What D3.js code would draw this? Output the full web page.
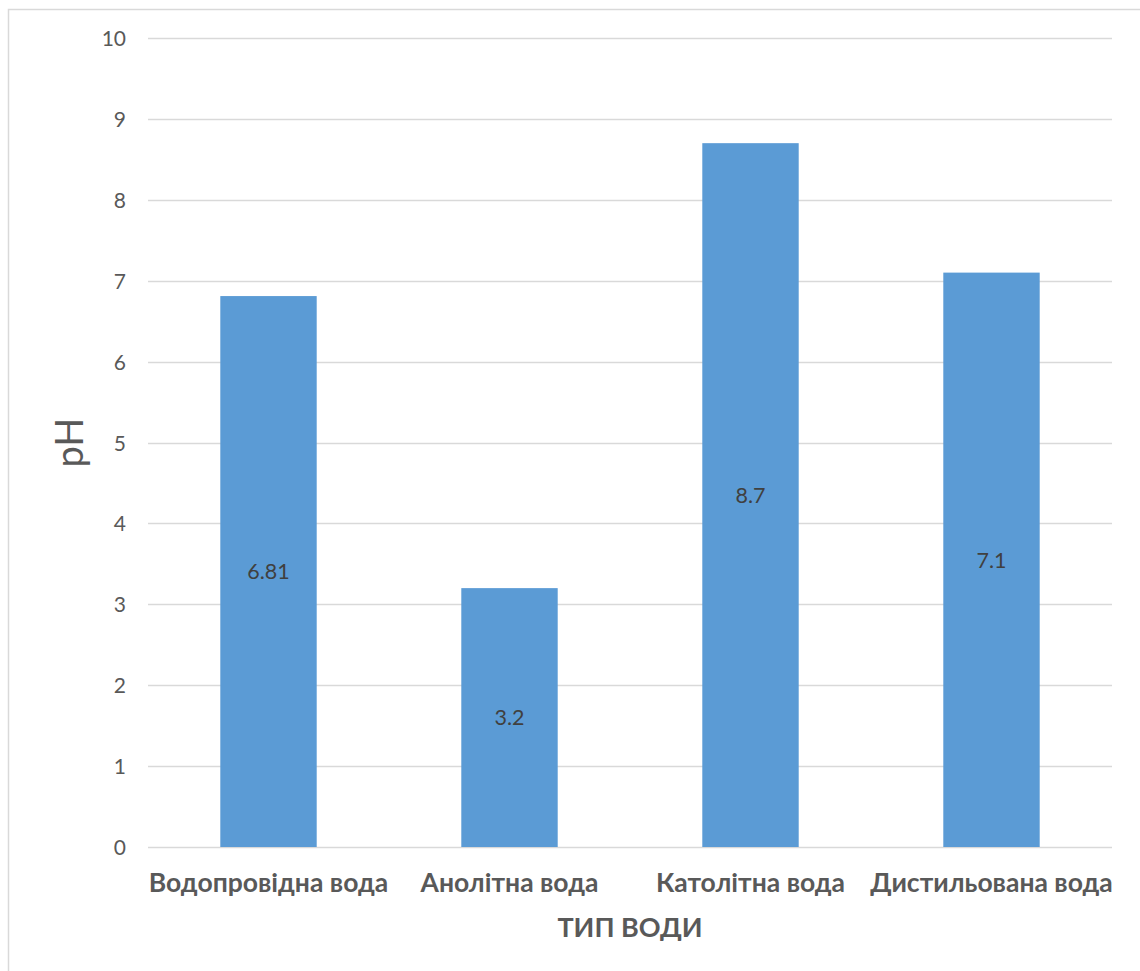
<!DOCTYPE html>
<html>
<head>
<meta charset="utf-8">
<script src="https://cdn.jsdelivr.net/npm/d3@7"></script>
<style>
  html, body { margin: 0; padding: 0; background: #ffffff; }
  svg { display: block; }
</style>
</head>
<body>
<svg id="chart" width="1140" height="971"></svg>
<script>
// pH of different water types
const categories = ["Водопровідна вода", "Анолітна вода", "Католітна вода", "Дистильована вода"];
const phValues = [6.81, 3.2, 8.7, 7.1];
const valueLabels = ["6.81", "3.2", "8.7", "7.1"];
const yTicks = [0, 1, 2, 3, 4, 5, 6, 7, 8, 9, 10];
const yTitle = "pH";
const xTitle = "ТИП ВОДИ";

const W = 1140, H = 971;
const plot = { left: 148, right: 1112, top: 38, bottom: 847 };
const fontFamily = "Lato, 'Open Sans', 'Noto Sans', sans-serif";

const svg = d3.select("#chart");

// outer chart frame (left and top edges visible)
svg.append("path")
  .attr("d", `M8.5,${H} L8.5,9.5 L${W},9.5`)
  .attr("fill", "none")
  .attr("stroke", "#d9d9d9")
  .attr("stroke-width", 1.5);

const x = d3.scaleBand()
  .domain(categories)
  .range([plot.left, plot.right])
  .paddingInner(0.6)
  .paddingOuter(0.3);

const y = d3.scaleLinear()
  .domain([0, 10])
  .range([plot.bottom, plot.top]);

// horizontal gridlines
svg.append("g")
  .selectAll("line")
  .data(yTicks)
  .join("line")
  .attr("x1", plot.left)
  .attr("x2", plot.right)
  .attr("y1", d => Math.round(y(d)) + 0.5)
  .attr("y2", d => Math.round(y(d)) + 0.5)
  .attr("stroke", "#d9d9d9")
  .attr("stroke-width", 1.5);

// y axis tick labels
const yAxis = d3.axisLeft(y).tickValues(yTicks).tickSize(0).tickPadding(0);
const gy = svg.append("g")
  .attr("transform", `translate(126,0)`)
  .call(yAxis);
gy.select(".domain").remove();
gy.selectAll("text")
  .attr("fill", "#595959")
  .attr("font-family", fontFamily)
  .attr("font-size", 21)
  .attr("dy", "0.36em");

// bars
svg.append("g")
  .selectAll("rect")
  .data(categories)
  .join("rect")
  .attr("x", d => x(d))
  .attr("width", x.bandwidth())
  .attr("y", (d, i) => y(phValues[i]))
  .attr("height", (d, i) => y(0) - y(phValues[i]))
  .attr("fill", "#5b9bd5");

// value labels centred inside bars
svg.append("g")
  .selectAll("text")
  .data(categories)
  .join("text")
  .attr("x", d => x(d) + x.bandwidth() / 2)
  .attr("y", (d, i) => y(phValues[i] / 2))
  .attr("dy", "0.36em")
  .attr("text-anchor", "middle")
  .attr("fill", "#404040")
  .attr("font-family", fontFamily)
  .attr("font-size", 21.5)
  .text((d, i) => valueLabels[i]);

// x axis category labels
const xAxis = d3.axisBottom(x).tickSize(0).tickPadding(0);
const gx = svg.append("g")
  .attr("transform", `translate(0,${plot.bottom})`)
  .call(xAxis);
gx.select(".domain").remove();
gx.selectAll("text")
  .attr("y", 45)
  .attr("dy", 0)
  .attr("fill", "#595959")
  .attr("font-family", fontFamily)
  .attr("font-weight", "bold")
  .attr("font-size", 26.5);

// axis titles
svg.append("text")
  .attr("x", (plot.left + plot.right) / 2)
  .attr("y", 937)
  .attr("text-anchor", "middle")
  .attr("fill", "#595959")
  .attr("font-family", fontFamily)
  .attr("font-weight", "bold")
  .attr("font-size", 27)
  .text(xTitle);

svg.append("text")
  .attr("transform", `translate(83,${(plot.top + plot.bottom) / 2}) rotate(-90)`)
  .attr("text-anchor", "middle")
  .attr("fill", "#595959")
  .attr("font-family", fontFamily)
  .attr("font-size", 38)
  .text(yTitle);
</script>
</body>
</html>
